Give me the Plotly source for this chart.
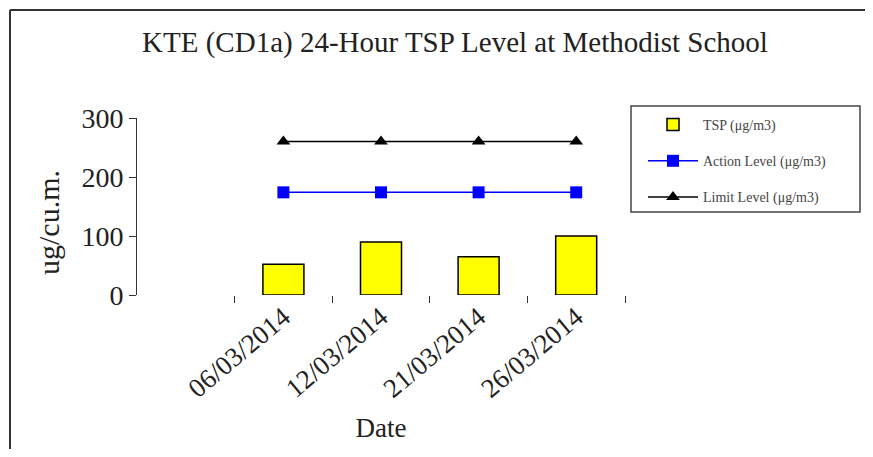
import plotly.graph_objects as go

dates = ["06/03/2014", "12/03/2014", "21/03/2014", "26/03/2014"]
tsp = [52, 90, 65, 100]
action_level = [174, 174, 174, 174]
limit_level = [260, 260, 260, 260]

# the page body keeps an 8px margin, so the figure sits 8px in from the window edge
OFF = 8
W, H = 873 - 2 * OFF, 457 - 2 * OFF
# plot area, measured in window pixels
PL, PR, PT, PB = 137 - OFF, 625 - OFF, 118 - OFF, 295 - OFF

_FONT = dict(family="Liberation Serif, Times New Roman, serif", color="#222222")


def px_x(p):
    """window pixel -> paper x"""
    return (p - OFF - PL) / (PR - PL)


def px_y(p):
    """window pixel -> paper y"""
    return (PB - (p - OFF)) / (PB - PT)


fig = go.Figure()

fig.add_trace(go.Bar(
    x=dates, y=tsp,
    name="TSP (μg/m3)",
    width=0.42,
    marker=dict(color="#ffff00", line=dict(color="#000000", width=1.5)),
    legendgroup="a",
))
fig.add_trace(go.Scatter(
    x=dates, y=action_level,
    mode="lines+markers",
    name="Action Level (μg/m3)",
    line=dict(color="#0000ff", width=1.5),
    marker=dict(symbol="square", size=12, color="#0000ff"),
    legendgroup="b",
))
fig.add_trace(go.Scatter(
    x=dates, y=limit_level,
    mode="lines+markers",
    name="Limit Level (μg/m3)",
    line=dict(color="#000000", width=1.5),
    marker=dict(symbol="triangle-up", size=12, color="#000000"),
    legendgroup="c",
))

_frame = dict(color="#333333", width=2)
shapes = [
    # outer chart frame: left and top edges
    dict(type="line", xref="paper", yref="paper",
         x0=px_x(10), x1=px_x(10), y0=px_y(470), y1=px_y(10), line=_frame),
    dict(type="line", xref="paper", yref="paper",
         x0=px_x(10), x1=px_x(866), y0=px_y(10), y1=px_y(10), line=_frame),
    # legend box
    dict(type="rect", xref="paper", yref="paper",
         x0=px_x(631), x1=px_x(860), y0=px_y(212), y1=px_y(106),
         line=dict(color="#444444", width=1.5)),
]

fig.update_layout(
    width=W, height=H,
    margin=dict(l=PL, r=W - PR, t=PT, b=H - PB, autoexpand=False),
    paper_bgcolor="#ffffff",
    plot_bgcolor="#ffffff",
    font=dict(**_FONT, size=24),
    title=dict(
        text="KTE (CD1a) 24-Hour TSP Level at Methodist School",
        x=px_x(455), xref="paper", xanchor="center",
        y=1 - (42 - OFF) / H, yref="container", yanchor="middle",
        font=dict(**_FONT, size=29),
    ),
    xaxis=dict(
        type="category", categoryarray=dates,
        range=[-1.5, 3.5], automargin=False,
        tickson="boundaries", ticks="outside", ticklen=7, tickcolor="#333333",
        showline=False, showgrid=False, zeroline=False,
        tickangle=-40,
        tickfont=dict(**_FONT, size=27),
        title=dict(text="Date", font=dict(**_FONT, size=27), standoff=15),
    ),
    yaxis=dict(
        range=[0, 300], tickvals=[0, 100, 200, 300], automargin=False,
        showline=True, linecolor="#333333", linewidth=1,
        ticks="outside", ticklen=7, tickcolor="#333333",
        showgrid=False, zeroline=False,
        tickfont=dict(**_FONT, size=28),
    ),
    annotations=[dict(
        text="ug/cu.m.", textangle=-90,
        xref="paper", yref="paper", x=px_x(48), y=px_y(223),
        xanchor="center", yanchor="middle", showarrow=False,
        font=dict(**_FONT, size=30),
    )],
    legend=dict(
        x=px_x(643), y=px_y(109), xanchor="left", yanchor="top",
        bgcolor="rgba(0,0,0,0)", borderwidth=0,
        font=dict(family=_FONT["family"], color="#444444", size=14),
        itemwidth=50, tracegroupgap=15, traceorder="grouped",
    ),
    shapes=shapes,
)

fig.write_html("out.html")
